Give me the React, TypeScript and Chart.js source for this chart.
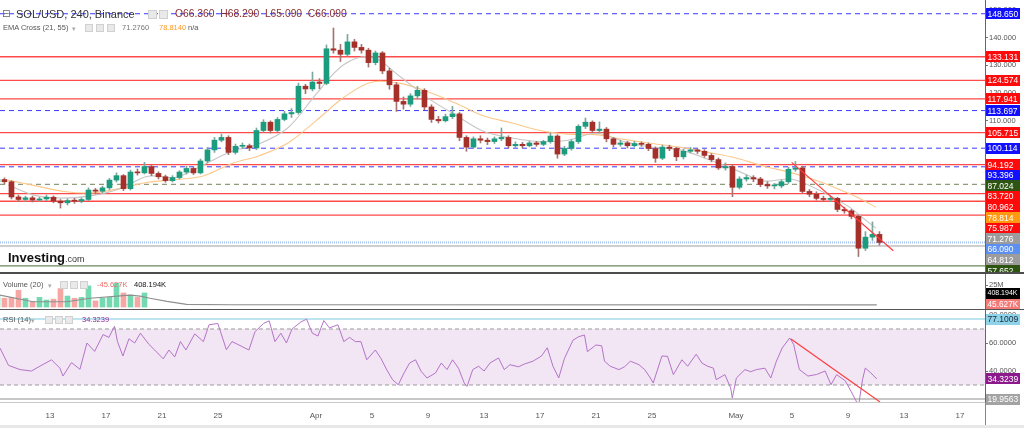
import React, { useEffect, useRef } from "react";
import { Chart, registerables } from "chart.js";

Chart.register(...registerables);

const FONT = '"Liberation Sans", Arial, Helvetica, sans-serif';

// ---------- time axis (days since 1 March 00:00) ----------
const X_MIN = 8.43;
const X_MAX = 78.79;
const timeTickDays = [12, 16, 20, 24, 31, 35, 39, 43, 47, 51, 55, 61, 65, 69, 73, 77];
const timeTickLabels = ["13", "17", "21", "25", "Apr", "5", "9", "13", "17", "21", "25", "May", "5", "9", "13", "17"];

// ---------- 12h candles, first one covering 9 Mar 00:00-12:00 ----------
const FIRST_CANDLE_MID = 8.25;
const CANDLE_DAYS = 0.5;
const firstOpen = 88.0;
const closes = [
  88.8, 88.0, 82.5, 81.6, 82.2, 81.4, 81.8, 82.4, 81.0, 80.4,
  81.2, 81.0, 81.6, 85.0, 84.6, 85.8, 88.6, 90.2, 85.5, 91.5,
  91.2, 93.5, 91.0, 89.8, 88.4, 89.5, 91.5, 92.8, 91.2, 95.5,
  99.5, 103.0, 104.0, 98.6, 100.8, 101.0, 100.2, 106.5, 109.5, 106.5,
  110.5, 112.5, 113.0, 122.5, 121.5, 124.0, 123.5, 136.0, 135.5, 134.0,
  138.5, 136.5, 135.5, 131.0, 134.5, 128.0, 123.0, 117.0, 116.0, 119.0,
  121.0, 115.0, 110.5, 110.0, 111.5, 112.5, 104.0, 100.5, 103.5, 103.0,
  102.5, 103.5, 104.0, 101.0, 101.5, 101.0, 102.0, 101.5, 102.5, 104.5,
  98.0, 100.0, 102.5, 108.0, 109.5, 106.5, 107.0, 103.5, 101.5, 102.0,
  101.0, 101.8, 101.5, 100.0, 96.5, 100.5, 100.0, 97.0, 99.0, 99.5,
  99.0, 97.5, 96.0, 93.0, 93.5, 86.0, 89.0, 89.5, 89.0, 87.0,
  86.5, 86.5, 88.0, 92.5, 93.0, 84.5, 83.5, 82.0, 81.6, 82.0,
  78.0, 77.5, 75.5, 64.0, 68.0, 69.0, 66.09,
];
const highs = [
  89.6, 89.4, 88.4, 83.2, 82.8, 82.8, 82.4, 83.2, 82.9, 81.6,
  81.8, 82.0, 82.2, 85.8, 85.6, 86.4, 89.2, 91.2, 90.6, 92.2,
  92.6, 95.0, 93.9, 91.6, 90.4, 90.2, 92.0, 93.6, 93.2, 96.2,
  100.4, 104.0, 105.2, 104.6, 101.6, 102.0, 101.6, 107.4, 110.4, 110.0,
  111.2, 113.4, 114.4, 123.6, 123.2, 127.6, 125.2, 137.4, 143.5, 137.6,
  141.2, 139.4, 137.6, 136.2, 135.2, 135.0, 129.0, 123.8, 118.6, 119.8,
  122.4, 121.6, 115.8, 111.6, 112.4, 115.2, 113.0, 104.6, 104.2, 104.6,
  103.8, 104.2, 107.4, 104.6, 102.4, 102.2, 102.6, 102.6, 103.0, 105.6,
  105.0, 100.8, 103.2, 108.6, 111.0, 110.0, 109.6, 107.6, 104.0, 103.0,
  102.6, 102.6, 102.4, 102.0, 100.6, 101.2, 101.2, 100.4, 99.8, 100.4,
  100.0, 99.6, 98.2, 96.6, 94.8, 94.2, 89.8, 90.4, 90.2, 89.6,
  88.0, 87.4, 88.6, 93.2, 95.3, 93.6, 85.2, 84.4, 82.8, 82.8,
  82.4, 78.8, 78.0, 76.0, 70.0, 73.5, 70.0,
];
const lows = [
  87.4, 87.2, 81.8, 80.8, 80.9, 80.7, 80.8, 81.2, 80.4, 78.5,
  79.6, 80.2, 80.4, 81.2, 83.6, 83.9, 85.2, 87.9, 84.8, 85.0,
  90.4, 90.8, 90.2, 89.0, 87.8, 87.9, 89.0, 90.8, 90.6, 90.8,
  94.8, 98.6, 102.4, 97.8, 98.0, 99.9, 99.2, 99.6, 105.9, 105.6,
  106.0, 110.0, 111.2, 112.4, 119.8, 120.8, 121.6, 123.0, 134.4, 131.4,
  133.4, 135.2, 134.4, 129.4, 130.2, 127.0, 121.4, 113.4, 114.2, 115.2,
  117.8, 114.0, 109.4, 109.2, 109.6, 110.8, 102.8, 99.0, 100.0, 102.0,
  101.4, 101.8, 102.8, 100.2, 100.4, 100.2, 100.6, 100.8, 101.0, 101.9,
  96.5, 97.4, 99.4, 101.8, 107.2, 105.8, 105.6, 102.4, 100.6, 100.8,
  100.2, 100.6, 100.8, 99.2, 95.0, 96.0, 99.2, 95.6, 96.2, 98.4,
  98.2, 96.8, 95.2, 92.4, 92.2, 82.6, 85.4, 88.2, 88.0, 86.2,
  85.6, 85.4, 85.8, 87.4, 91.8, 84.0, 82.6, 81.4, 81.0, 80.8,
  77.2, 76.6, 74.6, 61.0, 63.2, 66.8, 65.09,
];

// volume (millions) for the first candles; later bars are not visible in the source
const volumesM = [12, 10, 11, 19, 10, 6, 11, 8, 9, 21, 12.5, 10, 11, 24, 7, 10, 11, 27, 16, 13.6, 11, 16];
const volMaDays = [8.43, 10.8, 13.2, 14.86, 17.71, 18.43, 19.14, 20.36, 21.29, 21.76, 25, 71.06];
const volMaVals = [13.6, 6, 6, 10, 13.6, 12.5, 10, 6.5, 4.2, 3, 2.6, 2.4];

// EMA Cross (21, 55)
const emaDays = [9, 11, 13, 15, 17, 19, 21, 23, 25, 27, 29, 31, 33, 35, 37, 39, 41, 43, 45, 47, 49, 51, 53, 55, 57, 59, 61, 63, 65, 67, 69, 70, 71];
const ema21 = [86.8, 83.0, 82.1, 83.0, 85.5, 90.0, 89.6, 94.2, 99.0, 101.8, 107.5, 119.5, 130.3, 133.0, 126.0, 118.2, 112.0, 106.1, 103.8, 102.5, 103.0, 105.5, 102.5, 100.4, 99.5, 96.1, 92.2, 88.3, 88.9, 84.8, 79.2, 75.2, 71.28];
const ema55 = [88.6, 86.5, 84.5, 84.0, 85.6, 87.8, 88.8, 90.2, 94.6, 97.5, 102.0, 110.0, 118.5, 124.0, 123.5, 120.5, 116.3, 111.7, 109.2, 106.5, 105.2, 105.0, 103.3, 101.8, 100.5, 98.6, 96.6, 93.6, 91.2, 88.0, 83.9, 81.5, 78.81];

// price trend line
const priceTrendDays = [64.98, 72.24];
const priceTrendVals = [95.0, 63.1];

// horizontal levels
const levelValues = [148.65, 133.131, 124.574, 117.941, 113.697, 105.715, 100.114, 94.192, 93.396, 87.024, 83.72, 80.962, 75.987, 66.09, 64.812, 57.652];
const levelKinds = ["blue", "red", "red", "red", "blue", "red", "blue", "red", "blue", "olive", "red", "red", "red", "last", "grey", "green"];

// right-axis tags (main)
const mainTagValues = [148.65, 133.131, 124.574, 117.941, 113.697, 105.715, 100.114, 94.192, 93.396, 87.024, 83.72, 80.962, 78.814, 75.987, 71.276, 66.09, 64.812, 57.652];
const mainTagColors = ["#1010ff", "#ff0a0a", "#ff0a0a", "#ff0a0a", "#1010ff", "#ff0a0a", "#1010ff", "#ff0a0a", "#1010ff", "#2e5412", "#ff0a0a", "#ff0a0a", "#ff9a10", "#ff0a0a", "#9c9c9c", "#5b8ff0", "#9c9c9c", "#2e5412"];

const priceTicks = [60, 70, 80, 90, 100, 110, 120, 130, 140, 150];
const volTicks = [25];
const rsiTicks = [20, 40, 60, 80];

// RSI (14)
const rsiDays = [
  8.43, 9.04, 9.86, 10.68, 11.29, 12.11, 12.71, 12.93, 13.54, 14.14,
  14.64, 15.19, 15.79, 16.21, 16.61, 16.82, 17.21, 17.64, 18.05, 18.46,
  19.07, 19.48, 20.09, 20.5, 20.91, 21.32, 21.71, 22.34, 22.96, 23.36,
  23.99, 24.6, 25, 25.41, 26.21, 26.64, 27.26, 27.66, 28.07, 28.49,
  28.89, 29.29, 29.92, 30.33, 30.74, 31.14, 31.56, 31.96, 32.57, 32.99,
  33.4, 33.81, 34.21, 34.63, 35.24, 35.64, 36.06, 36.47, 36.88, 37.29,
  37.69, 38.11, 38.51, 38.93, 39.54, 39.95, 40.36, 40.76, 41.18, 41.59,
  41.79, 42.2, 42.61, 43.01, 43.43, 44.04, 44.45, 44.86, 45.47, 45.89,
  46.5, 47.11, 47.52, 47.93, 48.34, 48.75, 49.36, 49.77, 50.18, 50.39,
  51, 51.41, 51.61, 52.02, 52.64, 53.04, 53.46, 54.07, 54.48, 54.89,
  55.09, 55.71, 56.11, 56.53, 57.14, 57.55, 58.16, 58.57, 58.98, 59.39,
  59.59, 60.21, 60.62, 60.74, 61.03, 61.64, 62.05, 62.46, 63.07, 63.49,
  63.89, 64.3, 64.84, 65.12, 65.53, 66.14, 66.76, 67.37, 67.79, 68.19,
  68.81, 69.22, 69.76, 70.04, 70.24, 70.64, 71.06,
];
const rsiVals = [
  56.4, 44, 41, 40, 43.5, 48, 42, 36.4, 46, 41.2,
  60, 54, 66, 64, 72, 61, 50.7, 63, 60, 67,
  59, 55, 48.7, 55, 50, 61, 55, 66.5, 61, 73,
  74, 55.2, 61, 59, 55, 68, 74, 75.8, 61, 67,
  60, 70, 75, 77, 67, 65, 76, 70.8, 73, 61,
  64, 61, 61, 48, 55, 49, 40.8, 33.8, 30.2, 38.6,
  45.7, 48, 39.8, 35, 38.6, 45.7, 41, 48, 42, 31.4,
  29, 41, 43.4, 40, 45.7, 49.3, 41, 44.5, 43, 45,
  47, 50.7, 56.6, 43.4, 35, 49, 62, 64.5, 65.7, 53.8,
  58.6, 58, 47, 43.4, 41, 43, 47, 44.5, 41, 35,
  31.4, 50.7, 50.5, 37.4, 48, 43.4, 52, 45.7, 43.4, 42,
  33.8, 37.4, 28, 20.7, 35, 41, 39.5, 41, 42, 35,
  47, 56.4, 63.6, 59, 41, 36.4, 37.5, 40, 30.2, 37.4,
  33, 25.5, 15.2, 33.8, 42.1, 38.6, 34.32,
];
const RSI_UPPER = 70;
const RSI_LOWER = 30;
const rsiMax = 77.1009;
const rsiMin = 19.9563;
const rsiTrendDays = [64.93, 71.29];
const rsiTrendVals = [62.9, 17.9];

// ---------- styling ----------
const UP = "#1c9c7e";
const DOWN = "#a5302a";
const UP_WICK = "#7aa79d";
const DOWN_WICK = "#a27570";
const LEVEL_STYLE: any = {
  blue: { color: "#3a3aff", width: 1, dash: [5, 4] },
  red: { color: "#ff4a4a", width: 1.3, dash: [] },
  olive: { color: "#8d9b78", width: 1.3, dash: [5, 4] },
  last: { color: "#a8c2f2", width: 2, dash: [1, 1] },
  grey: { color: "#cfcfcf", width: 2, dash: [] },
  green: { color: "#6b875b", width: 1.3, dash: [] },
};

function tagPlugin(id: string, tags: any[], bottomLimit: number) {
  return {
    id,
    afterDraw(chart: any) {
      const { ctx, chartArea } = chart;
      const y = chart.scales.y;
      const items = tags
        .map((t) => ({ ...t, py: y.getPixelForValue(t.value) }))
        .sort((a, b) => a.py - b.py);
      const gap = 10.6;
      let last = -Infinity;
      for (const it of items) {
        it.py = Math.max(it.py, last + gap);
        last = it.py;
      }
      let lim = chartArea.bottom + bottomLimit;
      for (let i = items.length - 1; i >= 0; i--) {
        items[i].py = Math.min(items[i].py, lim);
        lim = items[i].py - gap;
      }
      ctx.save();
      ctx.textBaseline = "middle";
      ctx.textAlign = "left";
      const boxW = 34;
      for (const it of items) {
        ctx.fillStyle = it.bg;
        ctx.fillRect(chartArea.right + 1, Math.round(it.py - 5.5), boxW, 11);
        let size = 8.5;
        ctx.font = `${size}px ${FONT}`;
        while (ctx.measureText(it.text).width > boxW - 3 && size > 6) {
          size -= 0.25;
          ctx.font = `${size}px ${FONT}`;
        }
        ctx.fillStyle = it.fg;
        ctx.fillText(it.text, chartArea.right + 2.5, Math.round(it.py) + 0.5);
      }
      ctx.restore();
    },
  };
}

const rsiBandPlugin = {
  id: "rsiBand",
  beforeDatasetsDraw(chart: any) {
    const { ctx, chartArea: a } = chart;
    const y = chart.scales.y;
    const top = y.getPixelForValue(RSI_UPPER);
    const bot = y.getPixelForValue(RSI_LOWER);
    ctx.save();
    ctx.fillStyle = "#f2e5f4";
    ctx.fillRect(a.left, top, a.right - a.left, bot - top);
    ctx.restore();
  },
};

function rightAxis(min: number, max: number, ticks: number[], fmt: (v: number) => string) {
  return {
    type: "linear",
    position: "right",
    min,
    max,
    beginAtZero: false,
    afterBuildTicks: (s: any) => {
      s.ticks = ticks.map((v) => ({ value: v }));
    },
    afterFit: (s: any) => {
      s.width = 39;
      s.paddingTop = 0;
      s.paddingBottom = 0;
    },
    grid: { drawOnChartArea: false, drawTicks: true, tickLength: 3, color: "#777" },
    border: { display: true, color: "#666", width: 1 },
    ticks: {
      padding: 1,
      color: "#555",
      font: { size: 7.5, family: FONT },
      autoSkip: false,
      callback: (v: any) => fmt(Number(v)),
    },
  };
}

function hiddenX() {
  return { type: "linear", min: X_MIN, max: X_MAX, offset: false, display: false };
}

const line = (data: any[], color: string, width: number, extra: any = {}) => ({
  type: "line",
  data,
  borderColor: color,
  borderWidth: width,
  pointRadius: 0,
  fill: false,
  ...extra,
});

const baseOptions = {
  responsive: false,
  animation: false,
  events: [],
  layout: { padding: 0, autoPadding: false },
  plugins: { legend: { display: false }, tooltip: { enabled: false } },
};

const Txt = ({ x, y, size, color, weight, family, children }: any) => (
  <div
    style={{
      position: "absolute",
      left: x,
      top: y,
      transform: "translateY(-50%)",
      fontSize: size,
      color,
      fontWeight: weight || "normal",
      fontFamily: family || FONT,
      lineHeight: 1,
      whiteSpace: "pre",
    }}
  >
    {children}
  </div>
);

const Icon = ({ x, y, s }: any) => (
  <div
    style={{
      position: "absolute",
      left: x,
      top: y - s / 2,
      width: s,
      height: s,
      background: "#e9e9e9",
      border: "1px solid #d0d0d0",
      boxSizing: "border-box",
    }}
  />
);

export default function App() {
  const mainRef = useRef<HTMLCanvasElement>(null);
  const volRef = useRef<HTMLCanvasElement>(null);
  const rsiRef = useRef<HTMLCanvasElement>(null);

  useEffect(() => {
    const charts: any[] = [];
    const days = closes.map((_, i) => FIRST_CANDLE_MID + i * CANDLE_DAYS);
    const opens = closes.map((_, i) => (i === 0 ? firstOpen : closes[i - 1]));
    const isUp = closes.map((c, i) => c >= opens[i]);

    // ---------- main price panel ----------
    const mainDatasets: any[] = [];
    levelValues.forEach((v, k) => {
      const st = LEVEL_STYLE[levelKinds[k]];
      mainDatasets.push(
        line([{ x: X_MIN, y: v }, { x: X_MAX, y: v }], st.color, st.width, { borderDash: st.dash, order: 10 })
      );
    });
    mainDatasets.push(line(emaDays.map((d, i) => ({ x: d, y: ema55[i] })), "#fcc88a", 1.1, { tension: 0.35, order: 8 }));
    mainDatasets.push(line(emaDays.map((d, i) => ({ x: d, y: ema21[i] })), "#c6c6c6", 1.1, { tension: 0.35, order: 7 }));
    mainDatasets.push({
      type: "bar",
      data: days.map((d, i) => ({ x: d, y: [lows[i], highs[i]] })),
      backgroundColor: isUp.map((u) => (u ? UP_WICK : DOWN_WICK)),
      barThickness: 1,
      grouped: false,
      order: 5,
    });
    mainDatasets.push({
      type: "bar",
      data: days.map((d, i) => ({ x: d, y: [opens[i], closes[i]] })),
      backgroundColor: isUp.map((u) => (u ? UP : DOWN)),
      barThickness: 5,
      minBarLength: 1,
      grouped: false,
      order: 4,
    });
    mainDatasets.push(
      line(priceTrendDays.map((d, i) => ({ x: d, y: priceTrendVals[i] })), "#ff3c3c", 1.2, { order: 1 })
    );
    const mainTags = mainTagValues.map((v, i) => ({ value: v, text: v.toFixed(3), bg: mainTagColors[i], fg: "#fff" }));

    charts.push(
      new Chart(mainRef.current as any, {
        type: "bar",
        data: { datasets: mainDatasets },
        options: {
          ...baseOptions,
          scales: {
            x: hiddenX(),
            y: rightAxis(55.42, 153.61, priceTicks, (v) => v.toFixed(3)),
          },
        } as any,
        plugins: [tagPlugin("mainTags", mainTags, Infinity)],
      } as any)
    );

    // ---------- volume panel ----------
    const volDatasets: any[] = [
      line(volMaDays.map((d, i) => ({ x: d, y: volMaVals[i] })), "#8f8f8f", 1.2, { order: 1 }),
      {
        type: "bar",
        data: volumesM.map((v, i) => ({ x: days[i], y: v })),
        backgroundColor: volumesM.map((_, i) => (isUp[i] ? "#74d9b1" : "#f6a7a4")),
        barThickness: 5,
        grouped: false,
        order: 2,
      },
    ];
    const volTags = [
      { value: 0.408194, text: "408.194K", bg: "#000", fg: "#fff" },
      { value: 0.045627, text: "45.627K", bg: "#f47a78", fg: "#fff" },
    ];
    charts.push(
      new Chart(volRef.current as any, {
        type: "bar",
        data: { datasets: volDatasets },
        options: {
          ...baseOptions,
          scales: {
            x: hiddenX(),
            y: rightAxis(-2.2, 37.5, volTicks, (v) => `${v}M`),
          },
        } as any,
        plugins: [tagPlugin("volTags", volTags, -5)],
      } as any)
    );

    // ---------- RSI panel ----------
    const rsiDatasets: any[] = [
      line([{ x: X_MIN, y: RSI_UPPER }, { x: X_MAX, y: RSI_UPPER }], "#9a9a9a", 1, { borderDash: [4, 3], order: 6 }),
      line([{ x: X_MIN, y: RSI_LOWER }, { x: X_MAX, y: RSI_LOWER }], "#9a9a9a", 1, { borderDash: [4, 3], order: 6 }),
      line([{ x: X_MIN, y: rsiMax }, { x: X_MAX, y: rsiMax }], "#a6dcea", 1.5, { order: 6 }),
      line([{ x: X_MIN, y: rsiMin }, { x: X_MAX, y: rsiMin }], "#b4b4b4", 1.5, { order: 6 }),
      line(rsiDays.map((d, i) => ({ x: d, y: rsiVals[i] })), "#b474c8", 1, { order: 2 }),
      line(rsiTrendDays.map((d, i) => ({ x: d, y: rsiTrendVals[i] })), "#ff3c3c", 1.2, { order: 1 }),
    ];
    const rsiTags = [
      { value: rsiMax, text: rsiMax.toFixed(4), bg: "#8ed3e8", fg: "#1a2a3a" },
      { value: 34.3239, text: "34.3239", bg: "#8c1a8c", fg: "#fff" },
      { value: rsiMin, text: rsiMin.toFixed(4), bg: "#a3a3a3", fg: "#fff" },
    ];
    charts.push(
      new Chart(rsiRef.current as any, {
        type: "line",
        data: { datasets: rsiDatasets },
        options: {
          ...baseOptions,
          scales: {
            x: {
              type: "linear",
              min: X_MIN,
              max: X_MAX,
              offset: false,
              position: "bottom",
              afterBuildTicks: (s: any) => {
                s.ticks = timeTickDays.map((v) => ({ value: v }));
              },
              afterFit: (s: any) => {
                s.height = 26;
                s.paddingLeft = 0;
                s.paddingRight = 0;
              },
              grid: { display: false, drawTicks: false },
              border: { display: true, color: "#c8c8c8", width: 1 },
              ticks: {
                padding: 9,
                color: "#555",
                font: { size: 8, family: FONT },
                autoSkip: false,
                maxRotation: 0,
                minRotation: 0,
                callback: (_v: any, idx: number) => timeTickLabels[idx],
              },
            },
            y: rightAxis(17.86, 83.57, rsiTicks, (v) => v.toFixed(4)),
          },
        } as any,
        plugins: [rsiBandPlugin, tagPlugin("rsiTags", rsiTags, Infinity)],
      } as any)
    );

    return () => charts.forEach((c) => c.destroy());
  }, []);

  return (
    <div
      style={{
        position: "fixed",
        left: 0,
        top: 0,
        width: 1024,
        height: 428,
        background: "#fff",
        overflow: "hidden",
        fontFamily: FONT,
      }}
    >
      <canvas ref={mainRef} width={1024} height={272} style={{ position: "absolute", left: 0, top: 0, width: 1024, height: 272 }} />
      <canvas ref={volRef} width={1024} height={35} style={{ position: "absolute", left: 0, top: 274, width: 1024, height: 35 }} />
      <canvas ref={rsiRef} width={1024} height={118} style={{ position: "absolute", left: 0, top: 310, width: 1024, height: 118 }} />

      {/* panel separators */}
      <div style={{ position: "absolute", left: 0, top: 272, width: 1024, height: 2, background: "#4d4d4d" }} />
      <div style={{ position: "absolute", left: 0, top: 309, width: 1024, height: 1, background: "#555" }} />
      <div style={{ position: "absolute", left: 985, top: 402, width: 1, height: 26, background: "#888" }} />
      <div style={{ position: "absolute", left: 0, top: 425, width: 1024, height: 3, background: "#e8e8e8" }} />

      {/* header */}
      <Txt x={2} y={14} size={10} color="#666" family='"DejaVu Sans", sans-serif'>⊟</Txt>
      <Txt x={16} y={14} size={11} color="#333">SOL/USD, 240, Binance</Txt>
      <Icon x={148} y={14} s={9} />
      <Icon x={159} y={14} s={9} />
      <Txt x={175} y={14} size={10.3} color="#8a2e2e">O66.360  H68.290  L65.090  C66.090</Txt>

      <Txt x={3} y={28} size={7.5} color="#555">EMA Cross (21, 55)</Txt>
      <Txt x={72} y={28} size={7} color="#aaa">▾</Txt>
      <Icon x={85} y={28} s={8} />
      <Icon x={96} y={28} s={8} />
      <Icon x={107} y={28} s={8} />
      <Txt x={122} y={28} size={7.5} color="#777">71.2760</Txt>
      <Txt x={159} y={28} size={7.5} color="#ff9a2a">78.8140</Txt>
      <Txt x={188} y={28} size={7.5} color="#555">n/a</Txt>

      {/* logo */}
      <div style={{ position: "absolute", left: 8, top: 249, whiteSpace: "nowrap", lineHeight: 1 }}>
        <span style={{ fontSize: 13, fontWeight: "bold", color: "#111" }}>Investing</span>
        <span style={{ fontSize: 9, color: "#333" }}>.com</span>
      </div>

      {/* volume legend */}
      <Txt x={3} y={285} size={7.5} color="#555">Volume (20)</Txt>
      <Txt x={48} y={285} size={7} color="#aaa">▾</Txt>
      <Icon x={60} y={285} s={8} />
      <Icon x={70} y={285} s={8} />
      <Icon x={80} y={285} s={8} />
      <Txt x={97} y={285} size={7.5} color="#f06a66">-45.627K</Txt>
      <Txt x={134} y={285} size={7.5} color="#111">408.194K</Txt>

      {/* RSI legend */}
      <Txt x={3} y={320} size={7.5} color="#555">RSI (14)</Txt>
      <Txt x={31} y={320} size={7} color="#aaa">▾</Txt>
      <Icon x={45} y={320} s={8} />
      <Icon x={55} y={320} s={8} />
      <Icon x={65} y={320} s={8} />
      <Txt x={82} y={320} size={7.5} color="#8e2a9c">34.3239</Txt>
    </div>
  );
}
